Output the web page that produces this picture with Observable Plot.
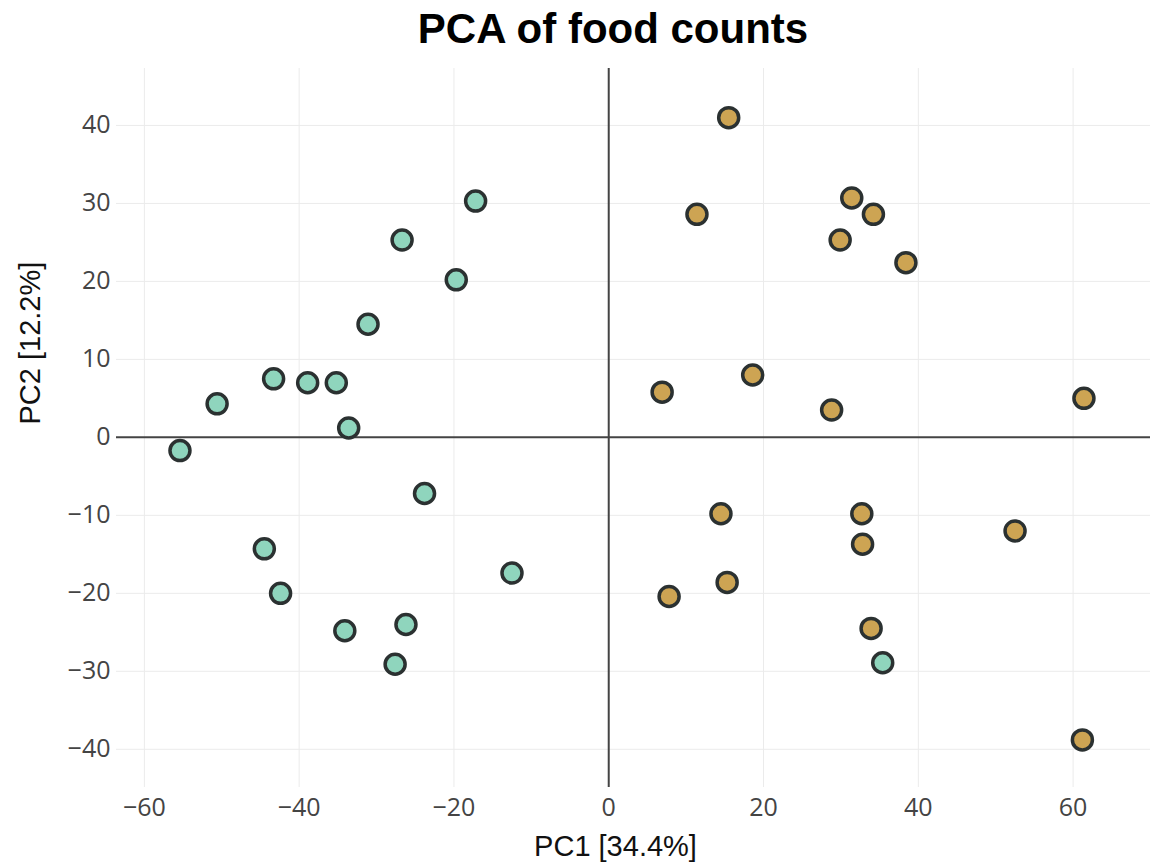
<!DOCTYPE html>
<html>
<head>
<meta charset="utf-8">
<script src="https://cdn.jsdelivr.net/npm/d3@7"></script>
<script src="https://cdn.jsdelivr.net/npm/@observablehq/plot@0.6"></script>
<style>
  html, body { margin: 0; padding: 0; background: #fff; }
  #title {
    width: 1150px; box-sizing: border-box; padding-left: 76px;
    height: 60px; text-align: center; color: #000;
    font: bold 42px "Liberation Sans", Arial, sans-serif;
    line-height: 58px; white-space: nowrap;
  }
</style>
</head>
<body>
<div id="title">PCA of food counts</div>
<div id="chart"></div>
<script>
// ---- data ----
const titleText = "PCA of food counts";
const xLabel = "PC1 [34.4%]";
const yLabel = "PC2 [12.2%]";
const xTicks = [-60, -40, -20, 0, 20, 40, 60];
const yTicks = [-40, -30, -20, -10, 0, 10, 20, 30, 40];
const groups = ["A", "B"];
const groupColors = ["#8fd5bd", "#cda453"];

// group A (teal)
const groupA_x = [-17.2, -26.7, -19.7, -31.1, -43.3, -38.9, -35.2, -50.6, -33.6, -55.4, -23.8, -44.5, -42.4, -12.5, -34.1, -26.2, -27.6, 35.4];
const groupA_y = [30.3, 25.3, 20.2, 14.5, 7.5, 7.0, 7.0, 4.3, 1.2, -1.7, -7.2, -14.3, -20.0, -17.4, -24.8, -24.0, -29.1, -28.9];
// group B (gold)
const groupB_x = [15.5, 11.4, 31.4, 34.2, 29.9, 38.4, 6.9, 18.6, 28.8, 61.4, 14.5, 32.7, 52.5, 32.8, 15.3, 7.8, 33.9, 61.2];
const groupB_y = [41.0, 28.6, 30.7, 28.6, 25.3, 22.4, 5.8, 8.0, 3.5, 5.0, -9.8, -9.8, -12.0, -13.7, -18.6, -20.4, -24.5, -38.8];

const points = [
  ...groupA_x.map((x, i) => ({x, y: groupA_y[i], g: groups[0]})),
  ...groupB_x.map((x, i) => ({x, y: groupB_y[i], g: groups[1]}))
];

const fmt = d => d < 0 ? "\u2212" + Math.abs(d) : String(d);
const labelFont = '"Liberation Sans", Arial, sans-serif';

const chart = Plot.plot({
  width: 1150,
  height: 803,
  marginLeft: 116,
  marginRight: 0,
  marginTop: 8,
  marginBottom: 76,
  style: {fontFamily: '"Open Sans", sans-serif', fontSize: "25px", color: "#444", background: "#fff"},
  x: {domain: [-63.6, 70.0]},
  y: {domain: [-44.9, 47.3]},
  color: {domain: groups, range: groupColors},
  marks: [
    Plot.ruleX(xTicks.filter(d => d !== 0), {stroke: "#ebebeb", strokeWidth: 1}),
    Plot.ruleY(yTicks.filter(d => d !== 0), {stroke: "#ebebeb", strokeWidth: 1}),
    Plot.ruleX([0], {stroke: "#444", strokeWidth: 2}),
    Plot.ruleY([0], {stroke: "#444", strokeWidth: 2}),
    Plot.axisX({ticks: xTicks, tickSize: 0, tickPadding: 11, tickFormat: fmt, label: null}),
    Plot.axisY({ticks: yTicks, tickSize: 0, tickPadding: 6, tickFormat: fmt, label: null}),
    Plot.dot(points, {x: "x", y: "y", fill: "g", r: 10, stroke: "#2b3131", strokeWidth: 3.5}),
    Plot.text([xLabel], {text: d => d, frameAnchor: "bottom", dx: -18, dy: 68, lineAnchor: "bottom",
      fontSize: 29, fontFamily: labelFont, fill: "#111"}),
    Plot.text([yLabel], {text: d => d, frameAnchor: "left", rotate: -90, dx: -77, dy: -3.5, lineAnchor: "bottom",
      fontSize: 29, fontFamily: labelFont, fill: "#111"})
  ]
});
document.getElementById("chart").appendChild(chart);
</script>
</body>
</html>
